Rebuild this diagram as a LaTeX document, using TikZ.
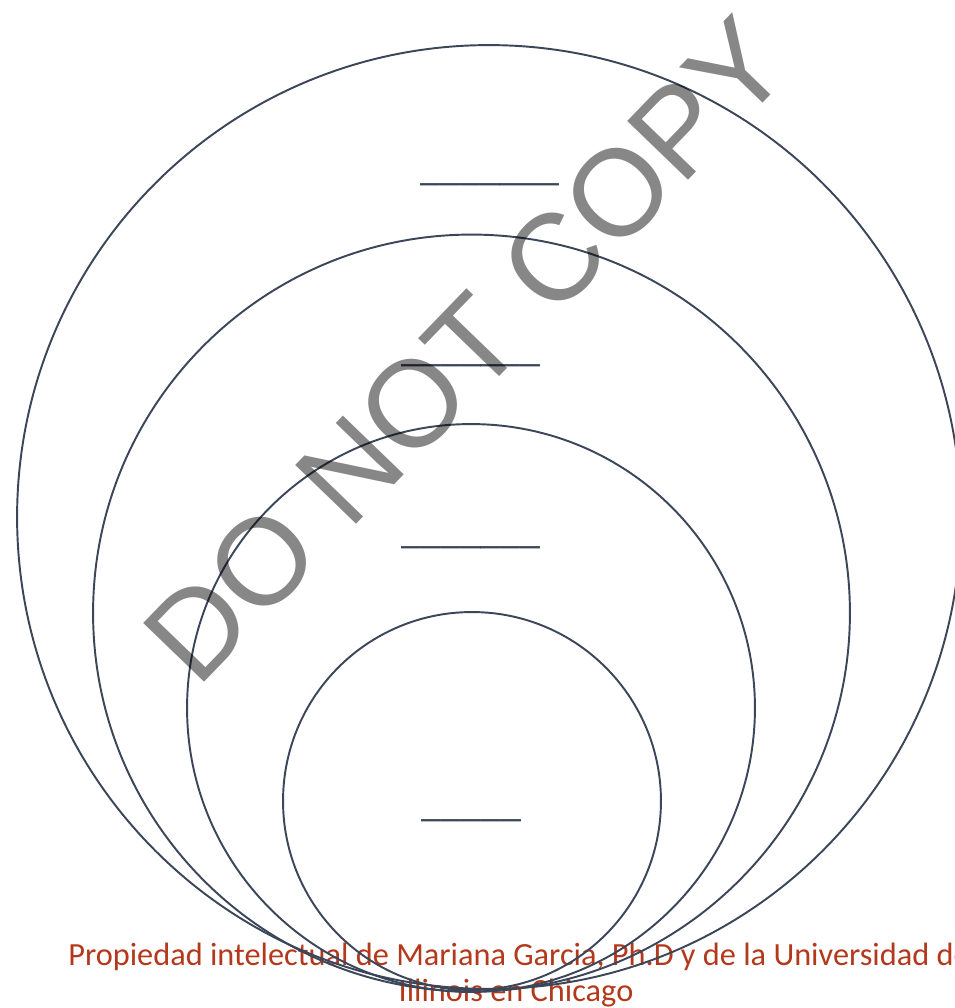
\documentclass[tikz,border=0pt]{standalone}
\usepackage{fontspec}
\setmainfont{Carlito}
\newfontfamily\markfont{Liberation Sans}
\usepackage{xcolor}
\definecolor{ringcol}{HTML}{3B4659}
\definecolor{notecol}{HTML}{B3391C}
\usetikzlibrary{positioning}

\begin{document}
\begin{tikzpicture}[x=0.02cm,y=-0.02cm,
  ring/.style={draw=ringcol,line width=1.1pt},
  blank/.style={text=ringcol,font=\fontsize{22.8}{26}\selectfont,inner sep=0pt,anchor=base},
  note/.style={text=notecol,font=\fontsize{18.4}{20}\selectfont,inner sep=0pt}]
  \useasboundingbox (0,0) rectangle (954,1008);
  % footer
  \node[note,anchor=base west] (own1) at (68,965) {Propiedad intelectual de Mariana Garcia, Ph.D y de la Universidad de};
  \node[note,anchor=base] (own2) at (516,1001) {Illinois en Chicago};
  % rings
  \draw[ring] (489,517) circle[radius=9.44cm];
  \draw[ring] (471.5,613) circle[radius=7.57cm];
  \draw[ring] (471,708) circle[radius=5.68cm];
  \draw[ring] (472,801) circle[radius=3.78cm];
  % blanks
  \node[blank] (b1) at (490,180) {\_\_\_\_\_\_\_};
  \node[blank] (b2) at (471,361) {\_\_\_\_\_\_\_};
  \node[blank] (b3) at (471,543) {\_\_\_\_\_\_\_};
  \node[blank] (b4) at (471.5,816) {\_\_\_\_\_};
  % watermark
  \node[rotate=46,text=black,opacity=0.47,inner sep=0pt,
    font=\markfont\fontsize{70}{70}\selectfont] (stamp) at (466,350) {DO NOT COPY};
\end{tikzpicture}
\end{document}
